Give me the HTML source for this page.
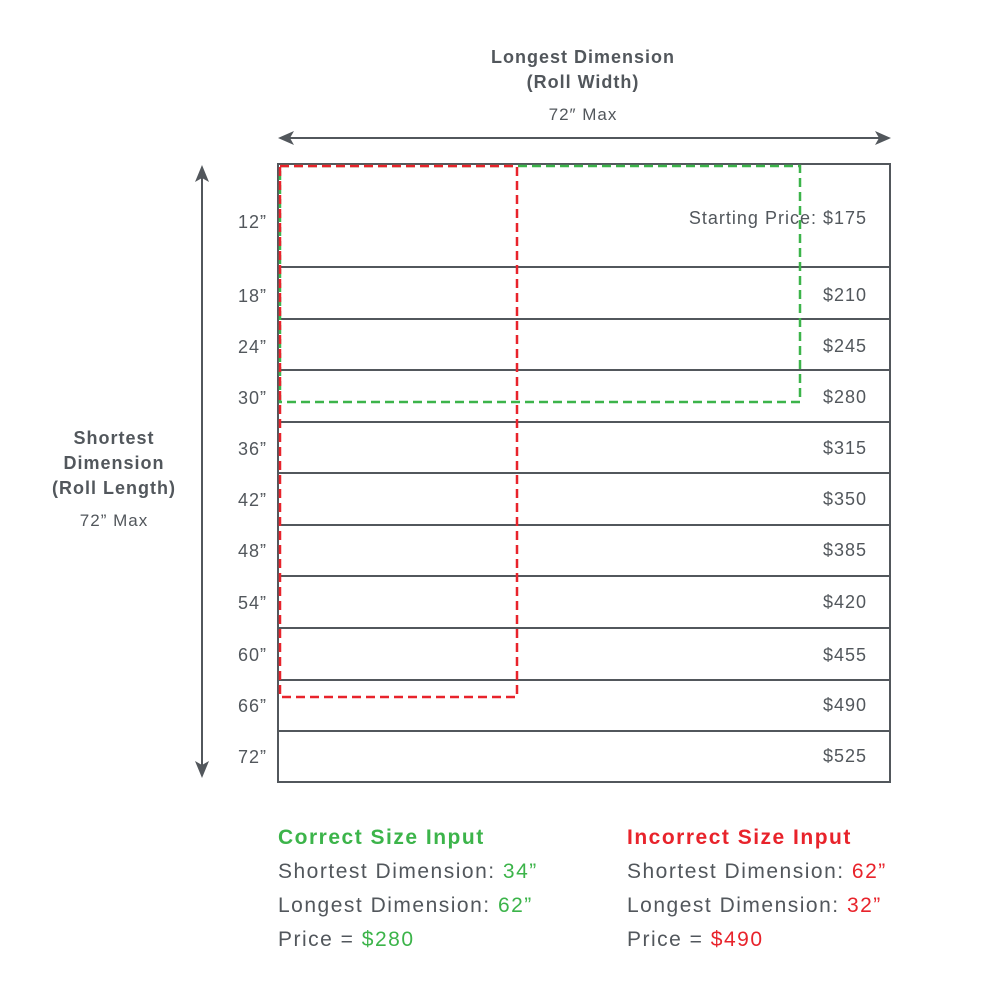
<!DOCTYPE html>
<html><head><meta charset="utf-8"><style>
html,body{margin:0;padding:0;background:#fff;}
svg{display:block;font-family:"Liberation Sans",sans-serif;}
</style></head><body>
<svg width="1000" height="1000" viewBox="0 0 1000 1000" xmlns="http://www.w3.org/2000/svg">
<rect width="1000" height="1000" fill="#fff"/>
<g fill="#52575c" letter-spacing="1">
<text x="583" y="63" font-size="18" font-weight="bold" text-anchor="middle">Longest Dimension</text>
<text x="583" y="88" font-size="18" font-weight="bold" text-anchor="middle">(Roll Width)</text>
<text x="583" y="120" font-size="17" text-anchor="middle">72″ Max</text>
<text x="114" y="444" font-size="18" font-weight="bold" text-anchor="middle">Shortest</text>
<text x="114" y="469" font-size="18" font-weight="bold" text-anchor="middle">Dimension</text>
<text x="114" y="494" font-size="18" font-weight="bold" text-anchor="middle">(Roll Length)</text>
<text x="114" y="526" font-size="17" text-anchor="middle">72” Max</text>
</g>
<g stroke="#52575c" stroke-width="2" fill="#52575c">
<line x1="284" y1="138" x2="884" y2="138"/>
<polygon points="278,138 294,131 290,138 294,145" stroke="none"/>
<polygon points="891,138 875,131 879,138 875,145" stroke="none"/>
<line x1="202" y1="172" x2="202" y2="770"/>
<polygon points="202,165 195,182 202,178 209,182" stroke="none"/>
<polygon points="202,778 195,761 202,765 209,761" stroke="none"/>
</g>
<g stroke="#52575c" stroke-width="2" fill="none">
<rect x="278" y="164" width="612" height="618"/>
<line x1="278" y1="267" x2="890" y2="267"/>
<line x1="278" y1="319" x2="890" y2="319"/>
<line x1="278" y1="370" x2="890" y2="370"/>
<line x1="278" y1="422" x2="890" y2="422"/>
<line x1="278" y1="473" x2="890" y2="473"/>
<line x1="278" y1="525" x2="890" y2="525"/>
<line x1="278" y1="576" x2="890" y2="576"/>
<line x1="278" y1="628" x2="890" y2="628"/>
<line x1="278" y1="680" x2="890" y2="680"/>
<line x1="278" y1="731" x2="890" y2="731"/>
</g>
<g fill="#52575c" font-size="18" text-anchor="end" letter-spacing="1">
<text x="267" y="228">12”</text>
<text x="267" y="302">18”</text>
<text x="267" y="353">24”</text>
<text x="267" y="404">30”</text>
<text x="267" y="455">36”</text>
<text x="267" y="506">42”</text>
<text x="267" y="557">48”</text>
<text x="267" y="609">54”</text>
<text x="267" y="661">60”</text>
<text x="267" y="712">66”</text>
<text x="267" y="763">72”</text>
<text x="867" y="224">Starting Price: $175</text>
<text x="867" y="301">$210</text>
<text x="867" y="352">$245</text>
<text x="867" y="403">$280</text>
<text x="867" y="454">$315</text>
<text x="867" y="505">$350</text>
<text x="867" y="556">$385</text>
<text x="867" y="608">$420</text>
<text x="867" y="661">$455</text>
<text x="867" y="711">$490</text>
<text x="867" y="762">$525</text>
</g>
<rect x="280" y="166" width="520" height="236" fill="none" stroke="#3cb44a" stroke-width="2.5" stroke-dasharray="9,5"/>
<rect x="280" y="166" width="237" height="531" fill="none" stroke="#e8232b" stroke-width="2.5" stroke-dasharray="9,5"/>
<g font-size="21" letter-spacing="1.5">
<text x="278" y="844" font-weight="bold" fill="#3cb44a">Correct Size Input</text>
<text x="278" y="878" fill="#52575c">Shortest Dimension: <tspan fill="#3cb44a">34”</tspan></text>
<text x="278" y="912" fill="#52575c">Longest Dimension: <tspan fill="#3cb44a">62”</tspan></text>
<text x="278" y="946" fill="#52575c">Price = <tspan fill="#3cb44a">$280</tspan></text>
<text x="627" y="844" font-weight="bold" fill="#e8232b">Incorrect Size Input</text>
<text x="627" y="878" fill="#52575c">Shortest Dimension: <tspan fill="#e8232b">62”</tspan></text>
<text x="627" y="912" fill="#52575c">Longest Dimension: <tspan fill="#e8232b">32”</tspan></text>
<text x="627" y="946" fill="#52575c">Price = <tspan fill="#e8232b">$490</tspan></text>
</g>
</svg>
</body></html>
